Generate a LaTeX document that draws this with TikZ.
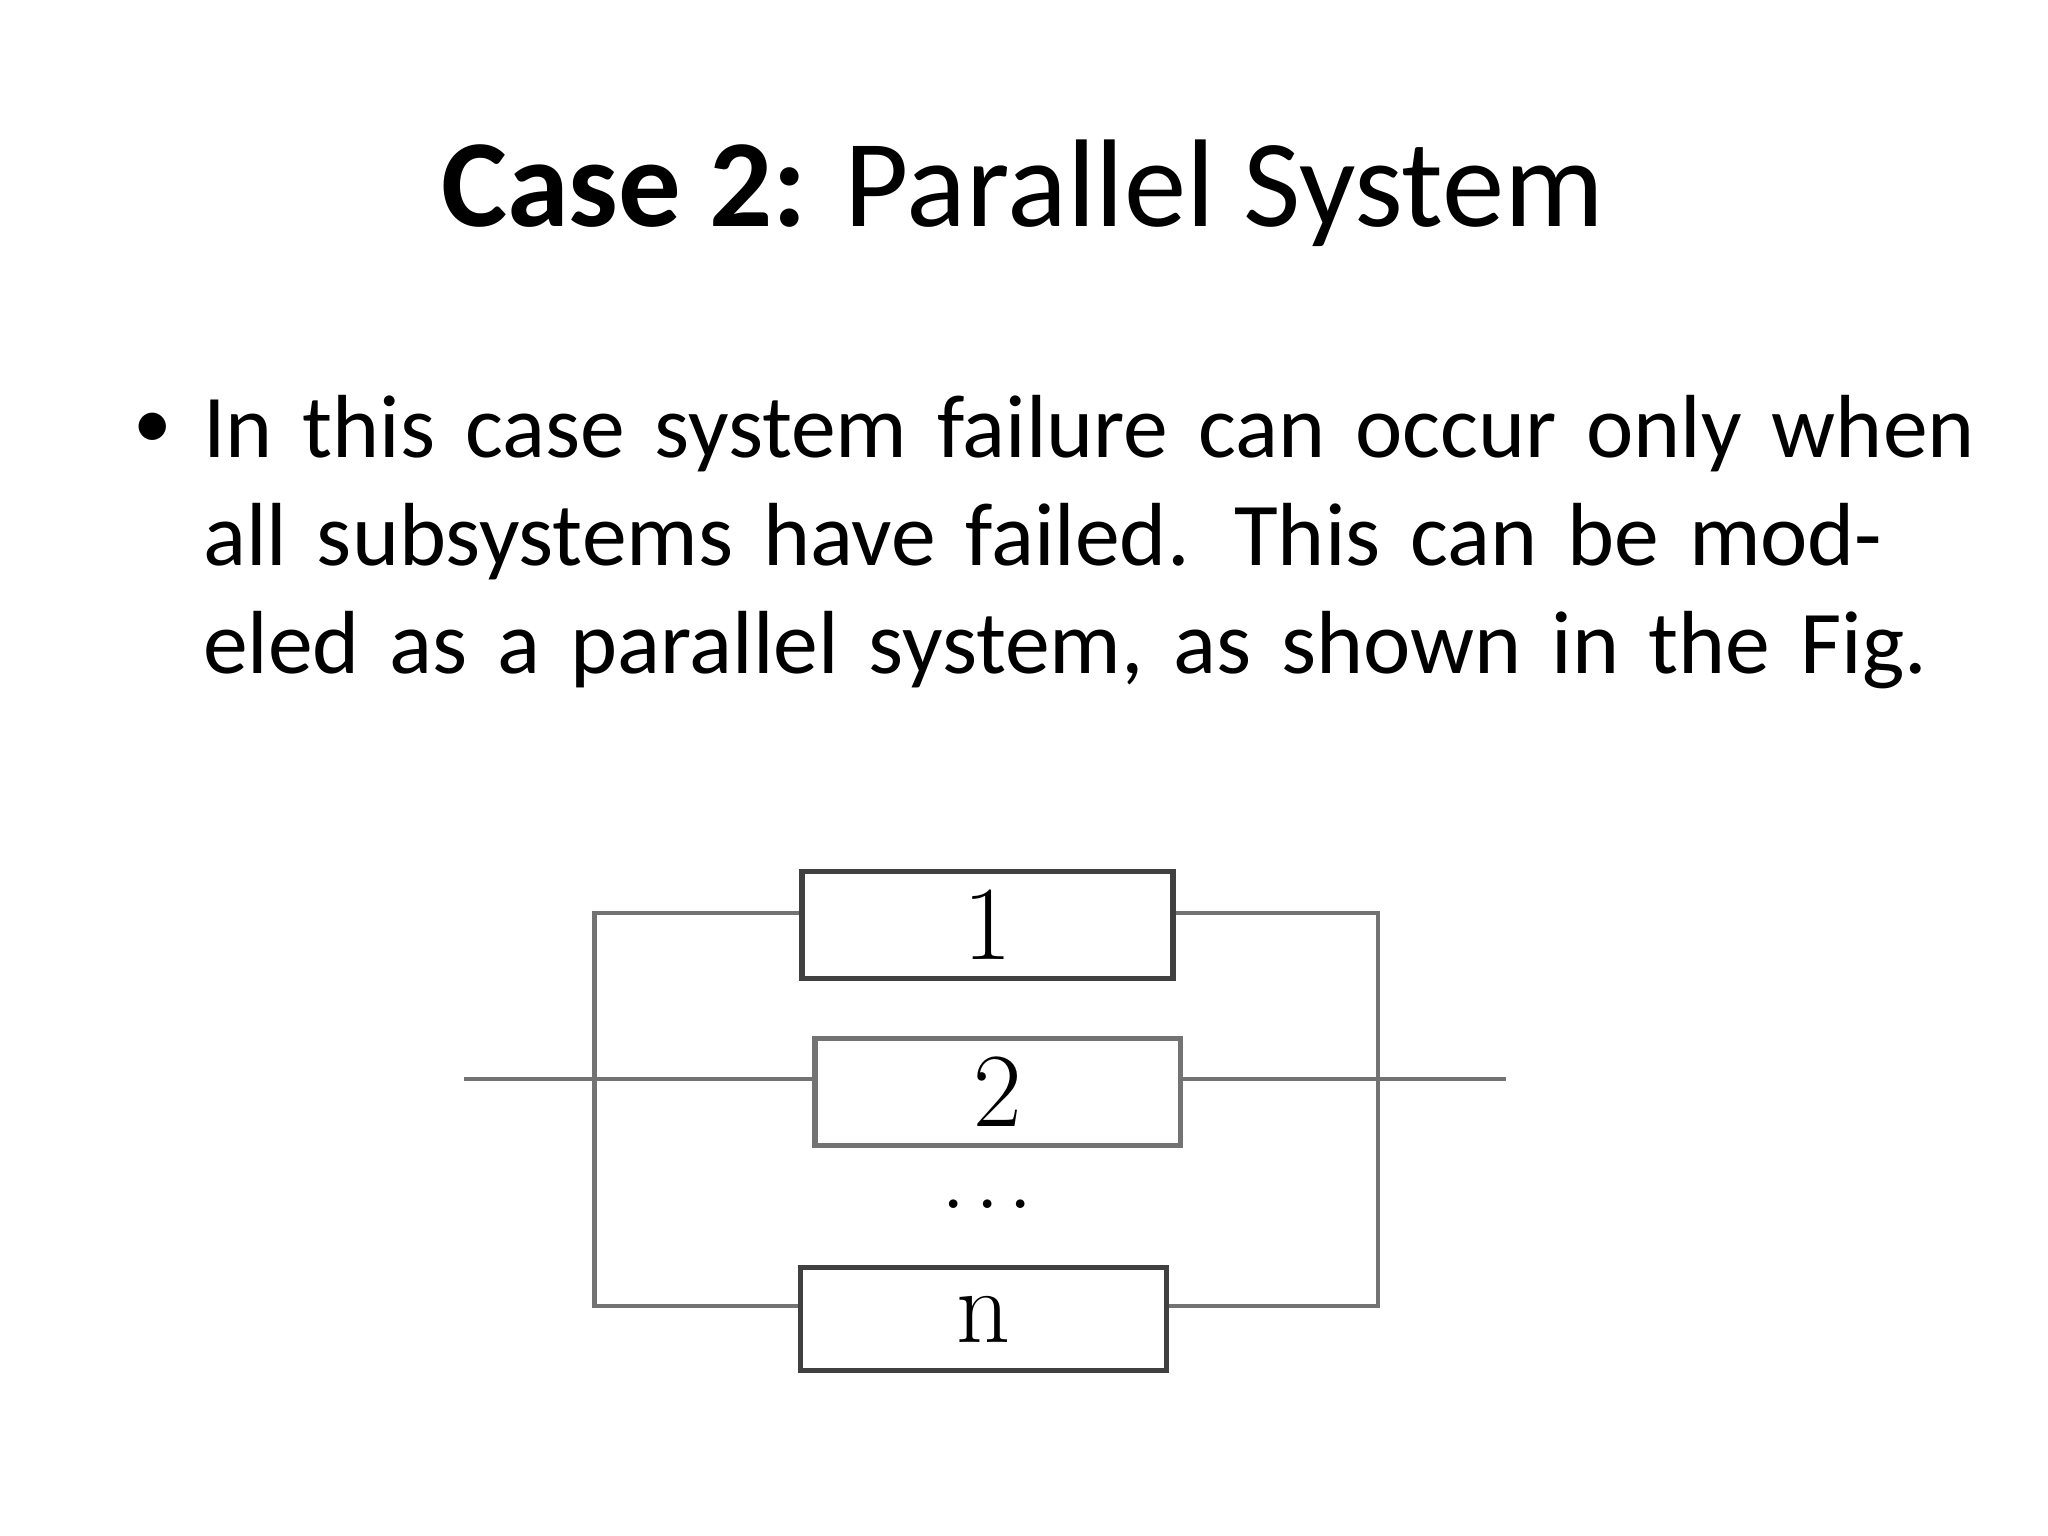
\documentclass[tikz,border=0pt]{standalone}
\usepackage{fontspec}
\setmainfont{Carlito}
\newfontfamily\lmfont{Latin Modern Roman}
\begin{document}
\begin{tikzpicture}[x=0.013061cm,y=-0.013061cm,
  wire/.style={draw=black!55,line width=1.3pt},
  blk/.style={draw=black!75,line width=1.5pt,fill=white,inner sep=0pt,font=\lmfont\fontsize{30}{30}\selectfont}]
\useasboundingbox[fill=white] (0,0) rectangle (1568,1176);
\node[font=\fontsize{35.5}{42}\selectfont] (title) at (783,148) {\textbf{Case 2:} Parallel System};
\node[anchor=north west,align=left,inner sep=0pt,text width=1360*0.013061cm,font=\fontsize{25.5}{30.7}\selectfont] (body) at (155,302)
 {In this case system failure can occur only when all subsystems have failed. This can be modeled as a parallel system, as shown in the Fig.};
\node[font=\fontsize{22}{26}\selectfont] (bul) at (117,330) {•};
\node[blk,minimum width=284*0.013061cm,minimum height=82*0.013061cm] (b1) at (756,708) {1};
\node[blk,draw=black!55,minimum width=280*0.013061cm,minimum height=82*0.013061cm] (b2) at (764,836) {2};
\node[blk,minimum width=280*0.013061cm,minimum height=79*0.013061cm] (bn) at (753,1010) {n};
\node[inner sep=0pt,font=\lmfont\fontsize{30}{30}\selectfont] (dots) at (756,922) {.\kern2pt.\kern2pt.};
\coordinate (lt) at (455,699); \coordinate (lb) at (455,1000);
\coordinate (rt) at (1055,699); \coordinate (rb) at (1055,1000);
\coordinate (in) at (355,826); \coordinate (out) at (1153,826);
\draw[wire] (b1.west|-lt) -- (lt) -- (lb) -- (bn.west|-lb);
\draw[wire] (b1.east|-rt) -- (rt) -- (rb) -- (bn.east|-rb);
\draw[wire] (in) -- (b2.west|-in);
\draw[wire] (b2.east|-out) -- (out);
\end{tikzpicture}
\end{document}
